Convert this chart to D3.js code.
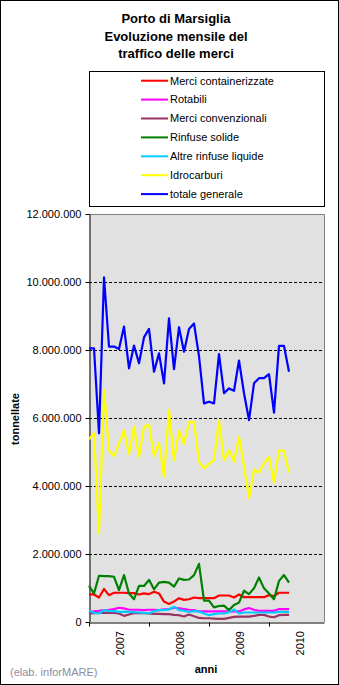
<!DOCTYPE html>
<html>
<head>
<meta charset="utf-8">
<script src="https://cdn.jsdelivr.net/npm/d3@7"></script>
<style>
  body { margin: 0; background: #fff; }
  svg { display: block; font-family: "Liberation Sans", Arial, sans-serif; }
</style>
</head>
<body>
<svg id="chart" width="339" height="685"></svg>
<script>
// Porto di Marsiglia: traffico mensile (tonnellate), gennaio 2007 - maggio 2010
const years = ["2007", "2008", "2009", "2010"];
const yTicks = [0, 2000000, 4000000, 6000000, 8000000, 10000000, 12000000];
const titleLines = ["Porto di Marsiglia", "Evoluzione mensile del", "traffico delle merci"];

const containerizzate = [810000, 810000, 720000, 970000, 790000, 860000, 860000, 860000, 850000, 850000,
  810000, 840000, 820000, 890000, 840000, 600000, 530000, 600000, 700000, 650000,
  670000, 720000, 700000, 700000, 700000, 700000, 780000, 780000, 780000, 720000,
  810000, 730000, 730000, 730000, 730000, 730000, 790000, 760000, 860000, 860000, 860000];
const rotabili = [300000, 310000, 330000, 350000, 360000, 380000, 420000, 400000, 360000, 360000,
  360000, 350000, 360000, 360000, 350000, 370000, 380000, 420000, 400000, 380000,
  360000, 350000, 310000, 310000, 310000, 310000, 310000, 310000, 310000, 310000,
  310000, 370000, 410000, 360000, 330000, 330000, 330000, 330000, 380000, 380000, 380000];
const convenzionali = [250000, 260000, 270000, 270000, 270000, 270000, 250000, 180000, 220000, 260000,
  270000, 260000, 250000, 240000, 240000, 230000, 230000, 210000, 200000, 160000,
  220000, 170000, 120000, 110000, 110000, 100000, 90000, 90000, 120000, 150000,
  160000, 160000, 160000, 180000, 210000, 210000, 160000, 140000, 200000, 210000, 210000];
const rinfuseSolide = [1060000, 840000, 1360000, 1350000, 1350000, 1330000, 940000, 1380000, 840000, 670000,
  1060000, 1060000, 1240000, 960000, 1160000, 1180000, 1160000, 1040000, 1280000, 1240000,
  1250000, 1380000, 1710000, 630000, 630000, 430000, 470000, 480000, 350000, 500000,
  570000, 920000, 820000, 990000, 1310000, 990000, 840000, 670000, 1210000, 1380000, 1160000];
const rinfuseLiquide = [330000, 270000, 250000, 350000, 320000, 320000, 300000, 300000, 300000, 290000,
  280000, 270000, 250000, 320000, 350000, 350000, 370000, 450000, 350000, 330000,
  300000, 320000, 310000, 250000, 200000, 230000, 250000, 250000, 290000, 370000,
  250000, 280000, 280000, 280000, 280000, 280000, 280000, 280000, 300000, 300000, 300000];
const idrocarburi = [5370000, 5550000, 2610000, 6820000, 5040000, 4880000, 5250000, 5630000, 4940000, 5740000,
  4860000, 5740000, 5810000, 4880000, 5270000, 4270000, 6240000, 4760000, 5630000, 5240000,
  5880000, 5880000, 4710000, 4520000, 4650000, 4760000, 5920000, 4760000, 5060000, 4710000,
  5450000, 4570000, 3640000, 4490000, 4390000, 4670000, 4860000, 4100000, 5040000, 5040000, 4390000];
const totale = [8050000, 8050000, 5550000, 10140000, 8100000, 8100000, 8030000, 8690000, 7460000, 8130000,
  7610000, 8370000, 8620000, 7360000, 7900000, 7020000, 8930000, 7440000, 8670000, 7950000,
  8620000, 8780000, 7820000, 6430000, 6480000, 6430000, 7880000, 6730000, 6870000, 6800000,
  7690000, 6730000, 5940000, 7020000, 7170000, 7170000, 7290000, 6160000, 8120000, 8120000, 7360000];

const seriesNames = ["Merci containerizzate", "Rotabili", "Merci convenzionali", "Rinfuse solide",
  "Altre rinfuse liquide", "Idrocarburi", "totale generale"];
const seriesValues = [containerizzate, rotabili, convenzionali, rinfuseSolide, rinfuseLiquide, idrocarburi, totale];
const seriesColors = ["#ff0000", "#ff00ff", "#993366", "#008000", "#00ccff", "#ffff00", "#0000ff"];

const svg = d3.select("#chart");
const W = 339, H = 685;
const plot = { left: 89, right: 324, top: 214, bottom: 622 };

// outer frame
svg.append("rect").attr("x", 0.5).attr("y", 0.5).attr("width", W - 1).attr("height", H - 1)
  .attr("fill", "#fff").attr("stroke", "#000");

// title
svg.append("g").selectAll("text").data(titleLines).join("text")
  .attr("x", 176).attr("y", (d, i) => 23 + i * 17.5)
  .attr("text-anchor", "middle").attr("font-size", 13).attr("font-weight", "bold")
  .text(d => d);

// scales: one slot per month, Jan 2007 - Dec 2010
const x = d3.scaleLinear().domain([0, 47]).range([plot.left, plot.right]);
const y = d3.scaleLinear().domain([0, 12000000]).range([plot.bottom, plot.top]);

// plot background and frame
svg.append("rect").attr("x", plot.left).attr("y", plot.top)
  .attr("width", plot.right - plot.left).attr("height", plot.bottom - plot.top)
  .attr("fill", "#e1e1e1");
svg.append("path")
  .attr("d", `M${plot.left},${plot.top + 0.5}H${plot.right + 0.5}V${plot.bottom}`)
  .attr("fill", "none").attr("stroke", "#808080");

// dashed gridlines
svg.append("g").selectAll("line").data(yTicks.filter(v => v > 0 && v < 12000000)).join("line")
  .attr("x1", plot.left).attr("x2", plot.right)
  .attr("y1", d => Math.round(y(d)) + 0.5).attr("y2", d => Math.round(y(d)) + 0.5)
  .attr("stroke", "#000").attr("stroke-dasharray", "3,2");

// y axis
const it = d3.formatLocale({ decimal: ",", thousands: ".", grouping: [3], currency: ["", ""] });
const yAxis = svg.append("g").attr("transform", `translate(${plot.left + 0.5},0)`)
  .call(d3.axisLeft(y).tickValues(yTicks).tickFormat(it.format(",d")).tickSize(4).tickSizeOuter(0).tickPadding(4));
yAxis.selectAll("text").attr("font-size", 11).attr("fill", "#000").attr("font-family", "Liberation Sans, Arial, sans-serif");
yAxis.selectAll("line,path").attr("stroke", "#000");

// x axis
const xAxis = svg.append("g").attr("transform", `translate(0,${plot.bottom + 0.5})`)
  .call(d3.axisBottom(x).tickValues([0, 12, 24, 36]).tickFormat("").tickSize(4).tickSizeOuter(0));
xAxis.selectAll("line,path").attr("stroke", "#000");

svg.append("g").selectAll("text").data(years).join("text")
  .attr("transform", (d, i) => `translate(${x(6 + 12 * i) + 1.5},631) rotate(-90)`)
  .attr("text-anchor", "end").attr("dy", "0.35em").attr("font-size", 11)
  .text(d => d);

// axis titles
svg.append("text").attr("transform", "translate(19,419) rotate(-90)")
  .attr("text-anchor", "middle").attr("font-size", 11).attr("font-weight", "bold").text("tonnellate");
svg.append("text").attr("x", 206).attr("y", 673)
  .attr("text-anchor", "middle").attr("font-size", 11).attr("font-weight", "bold").text("anni");

// series lines
const line = d3.line().x((d, i) => x(i)).y(d => y(d));
svg.append("g").selectAll("path").data(seriesValues).join("path")
  .attr("d", d => line(d))
  .attr("fill", "none").attr("stroke", (d, i) => seriesColors[i])
  .attr("stroke-width", 2.2).attr("stroke-linejoin", "round");

// legend
const legend = svg.append("g");
legend.append("rect").attr("x", 89.5).attr("y", 71.5).attr("width", 235).attr("height", 135)
  .attr("fill", "#fff").attr("stroke", "#000");
const items = legend.selectAll("g.item").data(seriesNames).join("g")
  .attr("class", "item").attr("transform", (d, i) => `translate(0,${80.7 + i * 18.9})`);
items.append("line").attr("x1", 141).attr("x2", 168).attr("y1", 0).attr("y2", 0)
  .attr("stroke", (d, i) => seriesColors[i]).attr("stroke-width", 2);
items.append("text").attr("x", 170).attr("y", 0).attr("dy", "0.35em").attr("font-size", 11)
  .text(d => d);

// source note
svg.append("text").attr("x", 10).attr("y", 676).attr("font-size", 11).attr("fill", "#8c8c9c")
  .text("(elab. inforMARE)");
</script>
</body>
</html>
